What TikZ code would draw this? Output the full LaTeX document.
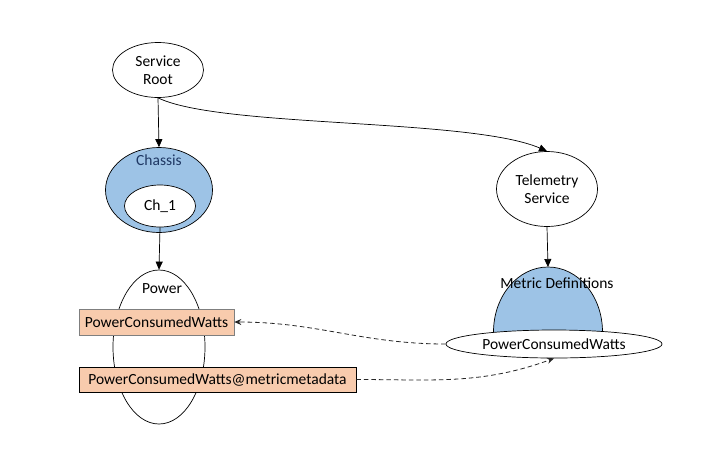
\documentclass[tikz,border=0pt]{standalone}
\usepackage{fontspec}
\setmainfont{Carlito}
\usepackage{tikz}
\usetikzlibrary{shapes.geometric, positioning, arrows.meta}
\definecolor{resBlue}{RGB}{157, 195, 230}
\definecolor{propFill}{RGB}{248, 203, 173}
\definecolor{titleNavy}{RGB}{31, 56, 100}
\definecolor{boxGray}{RGB}{127, 127, 127}
\tikzset{
    res_node/.style={
        ellipse,
        draw=black,
        line width=0.7pt,
        fill=white,
        inner sep=0pt,
        align=center,
        font=\fontsize{15.5}{18.5}\selectfont
    },
    res_title/.style={
        inner sep=0pt,
        font=\fontsize{15.5}{18.5}\selectfont
    },
    prop_box/.style={
        rectangle,
        draw=black,
        line width=0.7pt,
        fill=propFill,
        inner sep=0pt,
        font=\fontsize{15.5}{18.5}\selectfont
    },
    res_edge/.style={
        -{Triangle[length=8pt,width=7pt]},
        line width=0.7pt,
        draw=black
    },
    link_edge/.style={
        -{Stealth[length=7pt,width=6pt]},
        line width=0.8pt,
        dash pattern=on 4.5pt off 3pt,
        draw=black!85
    }
}

\begin{document}
\begin{tikzpicture}[x=1pt, y=-1pt]
    \useasboundingbox[fill=white] (0,0) rectangle (722,472);

    % left branch
    \node[res_node, minimum width=91pt, minimum height=55pt] (root) at (158,70) {Service\\Root};
    \node[res_node, fill=resBlue, minimum width=107pt, minimum height=85pt] (chassis) at (159,190) {};
    \node[res_title, text=titleNavy] (chassis_title) at (159,160) {Chassis};
    \node[res_node, minimum width=71pt, minimum height=42pt] (ch1) at (160,206) {Ch\_1};
    \node[res_node, minimum width=92pt, minimum height=154pt] (power) at (159,347) {};
    \node[res_title] (power_title) at (162,289) {Power};
    \node[prop_box, draw=boxGray, minimum width=155pt, minimum height=26pt] (pcw) at (156.5,322) {PowerConsumedWatts};
    \node[prop_box, minimum width=277pt, minimum height=25pt] (pcw_meta) at (217.5,379.5) {PowerConsumedWatts@metricmetadata};

    % right branch
    \node[res_node, minimum width=101pt, minimum height=75pt] (telemetry) at (547,189) {Telemetry\\Service};
    \fill[resBlue, draw=black, line width=0.7pt] (493.5,332) arc[start angle=180, end angle=0, x radius=54.5pt, y radius=65pt];
    \coordinate (metric_top) at (548,267);
    \node[res_title] (metric_title) at (557,283) {Metric Definitions};
    \node[res_node, minimum width=216pt, minimum height=28pt] (pcw_def) at (554,344) {PowerConsumedWatts};

    \draw[res_edge] (root.south) -- (chassis.north);
    \draw[res_edge] (root.south) .. controls (220,128) and (470,118) .. (telemetry.north);
    \draw[res_edge] (ch1.south) -- (power.north);
    \draw[res_edge] (telemetry.south) -- (metric_top);

    \draw[link_edge] (pcw_def.west) to[out=180, in=0] (pcw.east);
    \draw[link_edge] (pcw_meta.east) to[out=0, in=200] (pcw_def.south);
\end{tikzpicture}
\end{document}
